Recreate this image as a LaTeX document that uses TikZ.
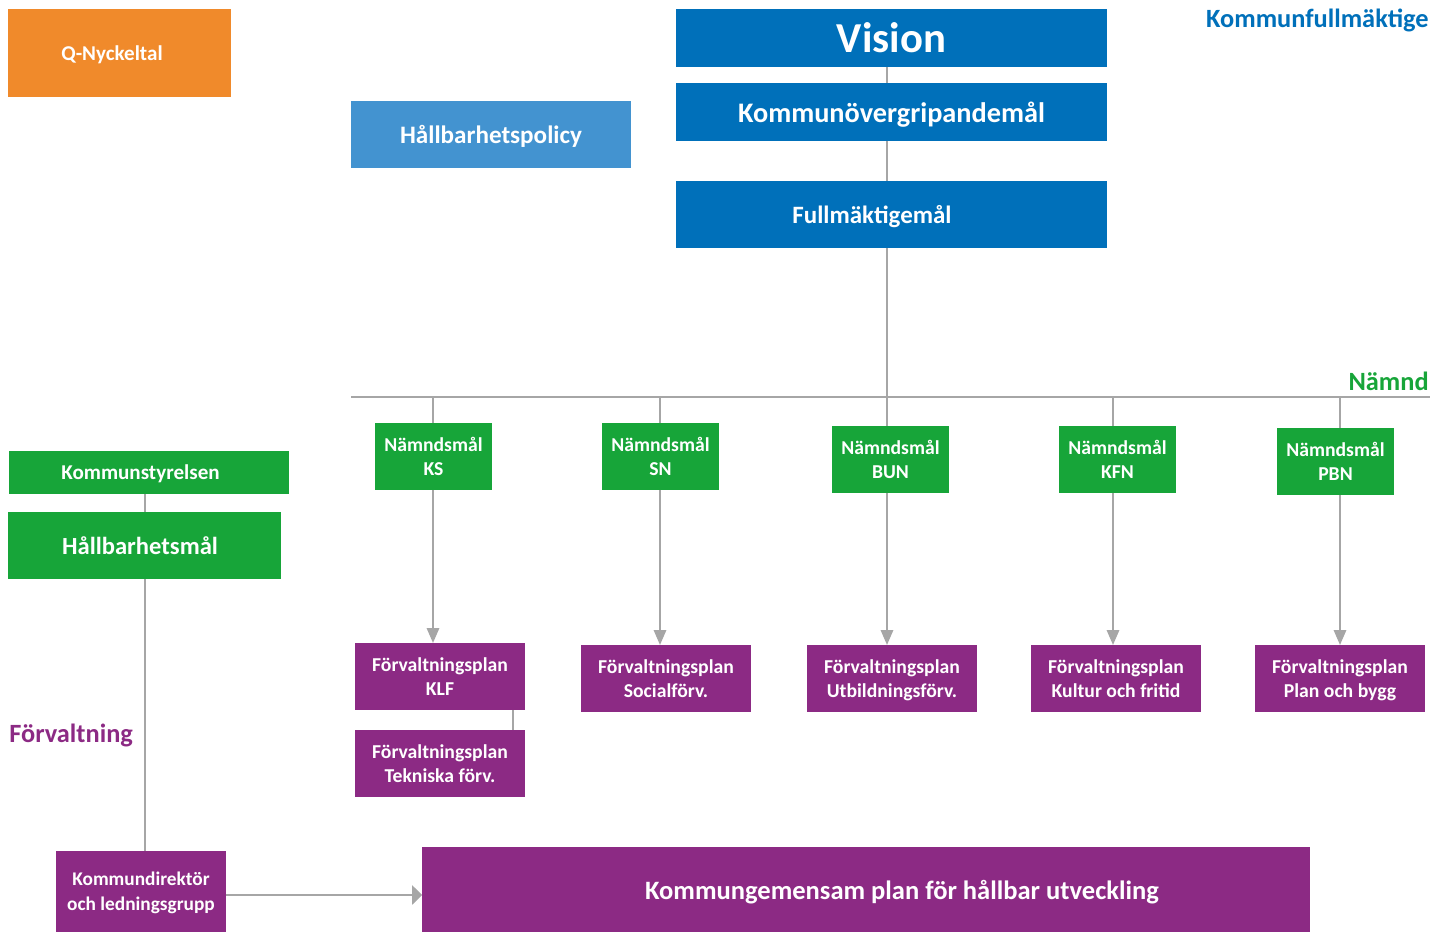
\documentclass[tikz,border=0pt]{standalone}
\usepackage{fontspec}
\setmainfont{Carlito}
\usetikzlibrary{arrows.meta}
\definecolor{kfblue}{HTML}{0070BA}
\definecolor{policyblue}{HTML}{4393D0}
\definecolor{namndgreen}{HTML}{17A539}
\definecolor{forvpurple}{HTML}{8C2A84}
\definecolor{qorange}{HTML}{F08A2B}
\definecolor{linegrey}{HTML}{A6A6A6}
\tikzset{
  box/.style={rectangle,inner sep=0pt,outer sep=0pt,text=white,align=center,text depth=0pt,font=\bfseries},
  namndbox/.style={box,fill=namndgreen,minimum width=2.34cm,minimum height=1.34cm,font=\bfseries\fontsize{11.2}{14}\selectfont},
  forvbox/.style={box,fill=forvpurple,minimum width=3.4cm,minimum height=1.34cm,font=\bfseries\fontsize{11.2}{13.6}\selectfont},
  kfbox/.style={box,fill=kfblue,minimum width=8.62cm},
  levellabel/.style={anchor=east,inner sep=0pt,font=\bfseries\fontsize{15}{18}\selectfont},
  flow/.style={-{Triangle[length=8.5pt,width=7pt]}},
  wideflow/.style={-{Triangle[length=5.7pt,width=11pt]}}
}
\begin{document}
\begin{tikzpicture}[x=0.02cm,y=-0.02cm]
        \useasboundingbox (0,0) rectangle (1448,933);

        % kommunfullmaktige
        \node[kfbox,minimum height=1.16cm,font=\bfseries\fontsize{24.3}{28}\selectfont] (vision) at (891.5,38) {Vision};
        \node[kfbox,minimum height=1.16cm,font=\bfseries\fontsize{16.1}{19}\selectfont] (overgrip) at (891.5,112) {Kommunövergripandemål};
        \node[kfbox,minimum height=1.34cm,font=\bfseries\fontsize{14.2}{17}\selectfont] (fullm) at (891.5,214.5) {\hspace*{-0.78cm}Fullmäktigemål};
        \node[box,fill=policyblue,minimum width=5.6cm,minimum height=1.34cm,font=\bfseries\fontsize{14.3}{17}\selectfont] (policy) at (491,134.5) {Hållbarhetspolicy};
        \node[box,fill=qorange,minimum width=4.46cm,minimum height=1.76cm,font=\bfseries\fontsize{12}{14}\selectfont] (qnyckel) at (119.5,53) {\hspace*{-0.3cm}Q-Nyckeltal};
        \node[levellabel,text=kfblue] (kflabel) at (1429,20) {Kommunfullmäktige};

        % namnd
        \coordinate (lineW) at (351,397);
        \coordinate (lineE) at (1430,397);
        \coordinate (dKS) at (433,397);
        \coordinate (dSN) at (660,397);
        \coordinate (dBUN) at (887,397);
        \coordinate (dKFN) at (1113,397);
        \coordinate (dPBN) at (1340,397);
        \coordinate (spine) at (145,0);
        \node[levellabel,text=namndgreen] (namndlabel) at (1429,381) {Nämnd};
        \node[namndbox] (nKS) at (433.5,456.5) {Nämndsmål\\KS};
        \node[namndbox] (nSN) at (660.5,456.5) {Nämndsmål\\SN};
        \node[namndbox] (nBUN) at (890.5,459.5) {Nämndsmål\\BUN};
        \node[namndbox] (nKFN) at (1117.5,459.5) {Nämndsmål\\KFN};
        \node[namndbox] (nPBN) at (1335.5,461.5) {Nämndsmål\\PBN};

        \node[box,fill=namndgreen,minimum width=5.6cm,minimum height=0.86cm,font=\bfseries\fontsize{12}{14}\selectfont] (kstyr) at (149,472.5) {\hspace*{-0.34cm}Kommunstyrelsen};
        \node[box,fill=namndgreen,minimum width=5.46cm,minimum height=1.34cm,font=\bfseries\fontsize{14}{17}\selectfont] (hmal) at (144.5,545.5) {\hspace*{-0.18cm}Hållbarhetsmål};

        % forvaltning
        \node[forvbox] (fKLF) at (440,676.5) {Förvaltningsplan\\KLF};
        \node[forvbox] (fTek) at (440,763.5) {Förvaltningsplan\\Tekniska förv.};
        \node[forvbox] (fSoc) at (666,678.5) {Förvaltningsplan\\Socialförv.};
        \node[forvbox] (fUtb) at (892,678.5) {Förvaltningsplan\\Utbildningsförv.};
        \node[forvbox] (fKul) at (1116,678.5) {Förvaltningsplan\\Kultur och fritid};
        \node[forvbox] (fPla) at (1340,678.5) {Förvaltningsplan\\Plan och bygg};
        \node[levellabel,anchor=west,text=forvpurple] (forvlabel) at (9,735) {Förvaltning};
        \node[forvbox,minimum height=1.62cm,font=\bfseries\fontsize{11}{14}\selectfont] (kdir) at (141,891.5) {Kommundirektör\\och ledningsgrupp};
        \node[box,fill=forvpurple,minimum width=17.76cm,minimum height=1.7cm,font=\bfseries\fontsize{15.1}{18}\selectfont] (plan) at (866,889.5) {Kommungemensam plan för hållbar utveckling\hspace*{-1.44cm}};

        \begin{scope}[every edge/.style={draw=linegrey,line width=1.2pt}]
            \path (vision.south -| dBUN) edge (overgrip.north -| dBUN);
            \path (overgrip.south -| dBUN) edge (fullm.north -| dBUN);
            \path (fullm.south -| dBUN) edge (dBUN);
            \path (lineW) edge (lineE);
            \path (dKS) edge (dKS |- nKS.north);
            \path (dSN) edge (dSN |- nSN.north);
            \path (dBUN) edge (dBUN |- nBUN.north);
            \path (dKFN) edge (dKFN |- nKFN.north);
            \path (dPBN) edge (dPBN |- nPBN.north);
            \path ([xshift=-0.24cm]fKLF.south east) edge ([xshift=-0.24cm]fTek.north east);
            \path (kstyr.south -| spine) edge (hmal.north -| spine);
            \path (hmal.south -| spine) edge (kdir.north -| spine);
            \path[flow] (dKS |- nKS.south) edge (dKS |- fKLF.north);
            \path[flow] (dSN |- nSN.south) edge (dSN |- fSoc.north);
            \path[flow] (dBUN |- nBUN.south) edge (dBUN |- fUtb.north);
            \path[flow] (dKFN |- nKFN.south) edge (dKFN |- fKul.north);
            \path[flow] (dPBN |- nPBN.south) edge (dPBN |- fPla.north);
            \path[wideflow] ([yshift=-0.07cm]kdir.east) edge ([yshift=-0.07cm]kdir.east -| plan.west);
        \end{scope}
        \end{tikzpicture}
\end{document}
